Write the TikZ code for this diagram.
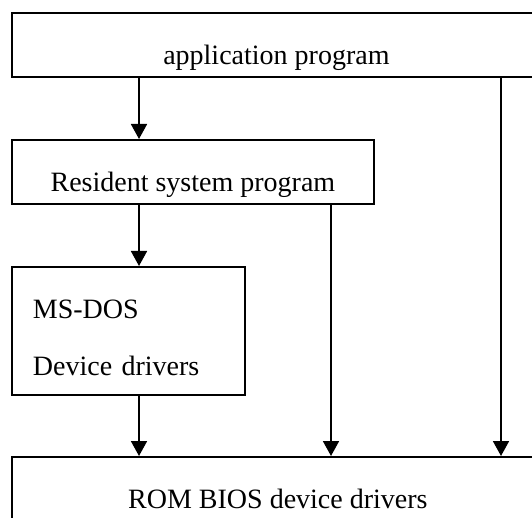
\documentclass[tikz,border=0pt]{standalone}
\usepackage{fontspec}
\setmainfont{Liberation Serif}
\usetikzlibrary{arrows.meta}

\begin{document}
\begin{tikzpicture}[
                    x=1pt, y=-1pt,
                    every node/.style={font=\fontsize{28}{57}\selectfont},
                    layer/.style={draw, line width=1.8pt, anchor=north west, inner ysep=0pt},
                    flow/.style={line width=1.8pt, -{Triangle[width=16pt,length=15pt]}}
                ]
                \useasboundingbox (0,0) rectangle (532,518);

                % stacked layers, the wide ones run off the page
                \node[layer, minimum width=529, text height=52, text depth=12] (app) at (11,12) {application program};
                \node[layer, minimum width=362, text height=52, text depth=12] (res) at (11,139) {Resident system program};
                \node[layer, align=left, text width=191, inner xsep=21pt, text height=52, text depth=76] (dos) at (11,266) {MS-DOS\\Device drivers};
                \node[layer, minimum width=532, text height=52, text depth=22] (rom) at (11,456) {ROM BIOS device drivers};

                \coordinate (left) at (139,0);
                \coordinate (mid) at (331,0);
                \coordinate (right) at (501,0);

                \draw[flow] (app.south -| left) -- (res.north -| left);
                \draw[flow] (res.south -| left) -- (dos.north -| left);
                \draw[flow] (dos.south -| left) -- (rom.north -| left);
                \draw[flow] (res.south -| mid) -- (rom.north -| mid);
                \draw[flow] (app.south -| right) -- (rom.north -| right);
            \end{tikzpicture}
\end{document}
